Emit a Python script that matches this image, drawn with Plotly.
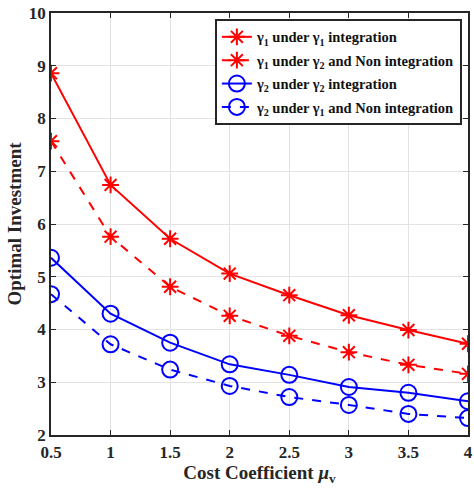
import plotly.graph_objects as go

mu = [0.5, 1, 1.5, 2, 2.5, 3, 3.5, 4]
g1_int = [8.86, 6.74, 5.72, 5.06, 4.65, 4.27, 3.99, 3.73]
g1_non = [7.57, 5.76, 4.81, 4.26, 3.88, 3.57, 3.33, 3.16]
g2_int = [5.36, 4.30, 3.75, 3.34, 3.14, 2.91, 2.80, 2.64]
g2_non = [4.67, 3.72, 3.24, 2.93, 2.72, 2.57, 2.40, 2.32]
x_ticktext = ["0.5", "1", "1.5", "2", "2.5", "3", "3.5", "4"]

names = [
    "γ<sub>1</sub> under γ<sub>1</sub> integration",
    "γ<sub>1</sub> under γ<sub>2</sub> and Non integration",
    "γ<sub>2</sub> under γ<sub>2</sub> integration",
    "γ<sub>2</sub> under γ<sub>1</sub> and Non integration",
]

font = "Liberation Serif, Times New Roman, serif"
fig = go.Figure()
series = [
    (g1_int, "red", "solid", "asterisk-open", 14),
    (g1_non, "red", "dash", "asterisk-open", 14),
    (g2_int, "blue", "solid", "circle-open", 16),
    (g2_non, "blue", "dash", "circle-open", 16),
]
for i, ((ys, col, dash, sym, sz), nm) in enumerate(zip(series, names)):
    fig.add_trace(go.Scatter(
        x=mu, y=ys, name=nm, mode="lines+markers", legendgroup=f"g{i}",
        line=dict(color=col, width=2, dash=dash),
        marker=dict(symbol=sym, size=sz, color=col, line=dict(color=col, width=2)),
    ))

axis_common = dict(
    showgrid=True, gridcolor="#e3e3e3", gridwidth=1,
    showline=True, linecolor="#262626", linewidth=1.5, mirror="ticks",
    ticks="inside", ticklen=5, tickcolor="#262626",
    zeroline=False, ticklabeloverflow="allow",
    tickfont=dict(family=font, size=17, color="#262626", weight="bold"),
)
fig.update_xaxes(
    range=[0.5, 4], tickvals=mu, ticktext=x_ticktext,
    ticklabelstandoff=1,
    title=dict(text="Cost Coefficient <i>μ</i><sub>v</sub>", standoff=0,
               font=dict(family=font, size=19, color="#262626", weight="bold")),
    **axis_common,
)
fig.update_yaxes(
    range=[2, 10], dtick=1,
    title=dict(text="Optimal Investment", standoff=2,
               font=dict(family=font, size=19, color="#262626", weight="bold")),
    **axis_common,
)
fig.update_layout(
    width=474, height=489,
    margin=dict(l=51, r=6, t=13, b=54, autoexpand=False),
    plot_bgcolor="white", paper_bgcolor="white",
    legend=dict(
        x=0.393, y=0.986, xanchor="left", yanchor="top",
        bgcolor="white", bordercolor="#262626", borderwidth=2,
        font=dict(family=font, size=14.5, color="#111", weight="bold"),
        tracegroupgap=1.5, itemwidth=30,
    ),
    showlegend=True,
)
fig.write_html("out.html", config={"displayModeBar": False},
               post_script="document.body.style.margin='0';")
